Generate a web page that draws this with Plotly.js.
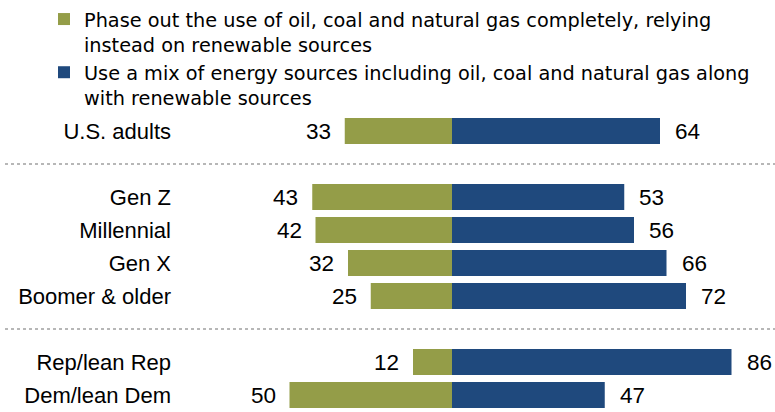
<!DOCTYPE html>
<html>
<head>
<meta charset="utf-8">
<script src="https://cdn.plot.ly/plotly-3.0.1.min.js"></script>
<style>html,body{margin:0;padding:0;background:#fff;}#chart{width:775px;height:412px;}</style>
</head>
<body>
<div id="chart"></div>
<script>
// Data
const groups = ["U.S. adults", "Gen Z", "Millennial", "Gen X", "Boomer & older", "Rep/lean Rep", "Dem/lean Dem"];
const phaseOut = [33, 43, 42, 32, 25, 12, 50];
const useMix = [64, 53, 56, 66, 72, 86, 47];
const seriesNames = [
  "Phase out the use of oil, coal and natural gas completely, relying<br>instead on renewable sources",
  "Use a mix of energy sources including oil, coal and natural gas along<br>with renewable sources"
];
// Row order on the axis, with blank spacer rows where the dotted dividers sit
const spacers = [" ", "  "];
const rowOrder = ["U.S. adults", spacers[0], "Gen Z", "Millennial", "Gen X", "Boomer & older", spacers[1], "Rep/lean Rep", "Dem/lean Dem"];

const green = "#949d48";
const blue = "#1f497d";
const bodyFont = "Liberation Sans, Arial, sans-serif";

const ML = 176, W = 775, PW = W - ML;

const traces = [
  {
    type: "bar", orientation: "h", name: seriesNames[0],
    y: groups, x: phaseOut.map(v => -v),
    marker: {color: green}, width: 0.79, hoverinfo: "skip"
  },
  {
    type: "bar", orientation: "h", name: seriesNames[1],
    y: groups, x: useMix,
    marker: {color: blue}, width: 0.79, hoverinfo: "skip"
  }
];

const annotations = [];
groups.forEach((g, i) => {
  annotations.push({x: -phaseOut[i], y: g, xref: "x", yref: "y", text: String(phaseOut[i]),
    showarrow: false, xanchor: "right", xshift: -12, font: {family: bodyFont, size: 22.5, color: "#000"}});
  annotations.push({x: useMix[i], y: g, xref: "x", yref: "y", text: String(useMix[i]),
    showarrow: false, xanchor: "left", xshift: 13, font: {family: bodyFont, size: 22.5, color: "#000"}});
});

const shapes = spacers.map(s => ({
  type: "line", xref: "paper", yref: "y",
  x0: (5 - ML) / PW, x1: 1, y0: s, y1: s,
  line: {color: "#a0a0a0", width: 1.5, dash: "dot"}
}));

const layout = {
  width: 775, height: 412,
  margin: {l: ML, r: 0, t: 0, b: 0, pad: 0},
  paper_bgcolor: "#fff", plot_bgcolor: "#fff",
  barmode: "relative",
  showlegend: true,
  legend: {
    x: (44 - ML) / PW, xanchor: "left", y: 1.0, yanchor: "top",
    font: {family: "DejaVu Sans, sans-serif", size: 19.3, color: "#000"},
    bgcolor: "rgba(0,0,0,0)", traceorder: "normal", valign: "top",
    tracegroupgap: 0, itemclick: false, itemdoubleclick: false
  },
  xaxis: {
    range: [-276 / 3.25, PW / 3.25 - 276 / 3.25],
    showgrid: false, zeroline: false, showticklabels: false, ticks: "", fixedrange: true
  },
  yaxis: {
    type: "category", categoryorder: "array", categoryarray: rowOrder,
    range: [8.515, -3.97],
    showgrid: false, zeroline: false, ticks: "", ticklabelstandoff: 4,
    tickfont: {family: bodyFont, size: 22, color: "#000"}, fixedrange: true
  },
  annotations: annotations,
  shapes: shapes
};

Plotly.newPlot("chart", traces, layout, {displayModeBar: false, staticPlot: true});
</script>
</body>
</html>
